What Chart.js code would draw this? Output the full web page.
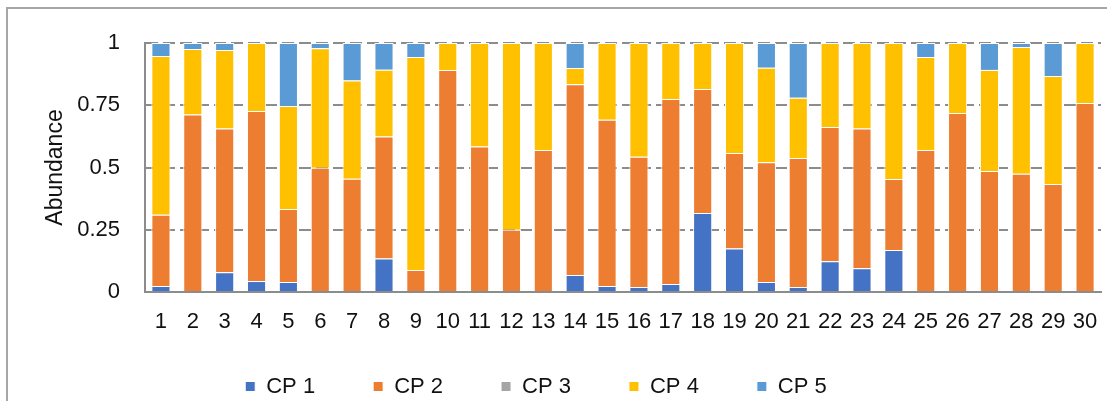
<!DOCTYPE html>
<html>
<head>
<meta charset="utf-8">
<script src="https://cdn.jsdelivr.net/npm/chart.js@4/dist/chart.umd.min.js"></script>
<style>
  html, body { margin: 0; padding: 0; background: #fff; overflow: hidden; }
  #frame { position: absolute; left: 6px; top: 7px; width: 1300px; height: 600px; border: 2px solid #a6a6a6; }
  #chart { position: absolute; left: 0; top: 0; }
</style>
</head>
<body>
<div id="frame"></div>
<canvas id="chart" width="1107" height="401"></canvas>
<script>
const samples = ['1', '2', '3', '4', '5', '6', '7', '8', '9', '10',
  '11', '12', '13', '14', '15', '16', '17', '18', '19', '20',
  '21', '22', '23', '24', '25', '26', '27', '28', '29', '30'];

const cp1 = [0.024, 0, 0.079, 0.044, 0.040, 0, 0, 0.135, 0, 0,
  0, 0, 0, 0.068, 0.024, 0.020, 0.032, 0.317, 0.175, 0.040,
  0.020, 0.123, 0.095, 0.169, 0, 0, 0, 0, 0, 0];
const cp2 = [0.286, 0.713, 0.578, 0.683, 0.293, 0.499, 0.455, 0.489, 0.088, 0.892,
  0.584, 0.250, 0.570, 0.766, 0.668, 0.523, 0.743, 0.498, 0.383, 0.481,
  0.518, 0.540, 0.562, 0.285, 0.570, 0.719, 0.486, 0.475, 0.434, 0.759];
const cp3 = [0, 0, 0, 0, 0, 0, 0, 0, 0, 0,
  0, 0, 0, 0, 0, 0, 0, 0, 0, 0,
  0, 0, 0, 0, 0, 0, 0, 0, 0, 0];
const cp4 = [0.638, 0.263, 0.315, 0.273, 0.414, 0.480, 0.394, 0.269, 0.856, 0.108,
  0.416, 0.750, 0.430, 0.066, 0.308, 0.457, 0.225, 0.185, 0.442, 0.380,
  0.242, 0.337, 0.343, 0.546, 0.374, 0.281, 0.406, 0.509, 0.433, 0.241];
const cp5 = [0.052, 0.024, 0.028, 0, 0.253, 0.021, 0.151, 0.107, 0.056, 0,
  0, 0, 0, 0.100, 0, 0, 0, 0, 0, 0.099,
  0.220, 0, 0, 0, 0.056, 0, 0.108, 0.016, 0.133, 0];

const seriesNames = ['CP 1', 'CP 2', 'CP 3', 'CP 4', 'CP 5'];
const seriesColors = ['#4472c4', '#ed7d31', '#a5a5a5', '#ffc000', '#5b9bd5'];
const yTicks = [0, 0.25, 0.5, 0.75, 1];

const FONT = 'Liberation Sans, Arial, sans-serif';
const TEXT = '#111111';
const AXIS = '#8c8c8c';

function barSet(i, values) {
  return {
    label: seriesNames[i],
    data: values,
    backgroundColor: seriesColors[i],
    borderColor: '#ffffff',
    borderWidth: 1,
    categoryPercentage: 1,
    barPercentage: 0.6,
  };
}

// the legend is spread wide but sits low; its padding would eat the plot, so move it after layout
const legendShift = {
  id: 'legendShift',
  afterLayout(chart) {
    const lg = chart.legend;
    lg.top -= 34.5;
    lg.left -= 14.5;
    lg.right -= 14.5;
  }
};

const config = {
  type: 'bar',
  data: {
    labels: samples,
    datasets: [barSet(0, cp1), barSet(1, cp2), barSet(2, cp3), barSet(3, cp4), barSet(4, cp5)]
  },
  options: {
    responsive: false,
    animation: false,
    layout: { padding: { top: 43, right: 6, left: 0, bottom: 0 } },
    plugins: {
      tooltip: { enabled: false },
      title: { display: false },
      legend: {
        position: 'bottom',
        maxHeight: 49,
        labels: {
          color: TEXT,
          boxWidth: 10,
          boxHeight: 10,
          padding: 58,
          font: { family: FONT, size: 22 }
        }
      }
    },
    scales: {
      x: {
        stacked: true,
        z: 1,
        grid: { display: false, drawTicks: false },
        border: { display: true, color: AXIS, width: 2 },
        ticks: {
          color: TEXT,
          padding: 17,
          maxRotation: 0,
          autoSkip: false,
          font: { family: FONT, size: 22 }
        },
        afterFit: (scale) => {
          scale.height = 60;
          scale.paddingLeft = 0;
          scale.paddingRight = 0;
        }
      },
      y: {
        stacked: true,
        min: 0,
        max: 1,
        afterBuildTicks: (scale) => { scale.ticks = yTicks.map(v => ({ value: v })); },
        afterFit: (scale) => { scale.width = 145; },
        grid: { color: AXIS, lineWidth: 2, drawTicks: false },
        border: { display: true, color: AXIS, width: 2, dash: [12, 5] },
        ticks: {
          color: TEXT,
          padding: 25,
          callback: (v) => String(v),
          font: { family: FONT, size: 22 }
        },
        title: {
          display: true,
          text: 'Abundance',
          color: TEXT,
          padding: { top: 42, bottom: 0 },
          font: { family: FONT, size: 23 }
        }
      }
    }
  },
  plugins: [legendShift]
};

new Chart(document.getElementById('chart'), config);
</script>
</body>
</html>
